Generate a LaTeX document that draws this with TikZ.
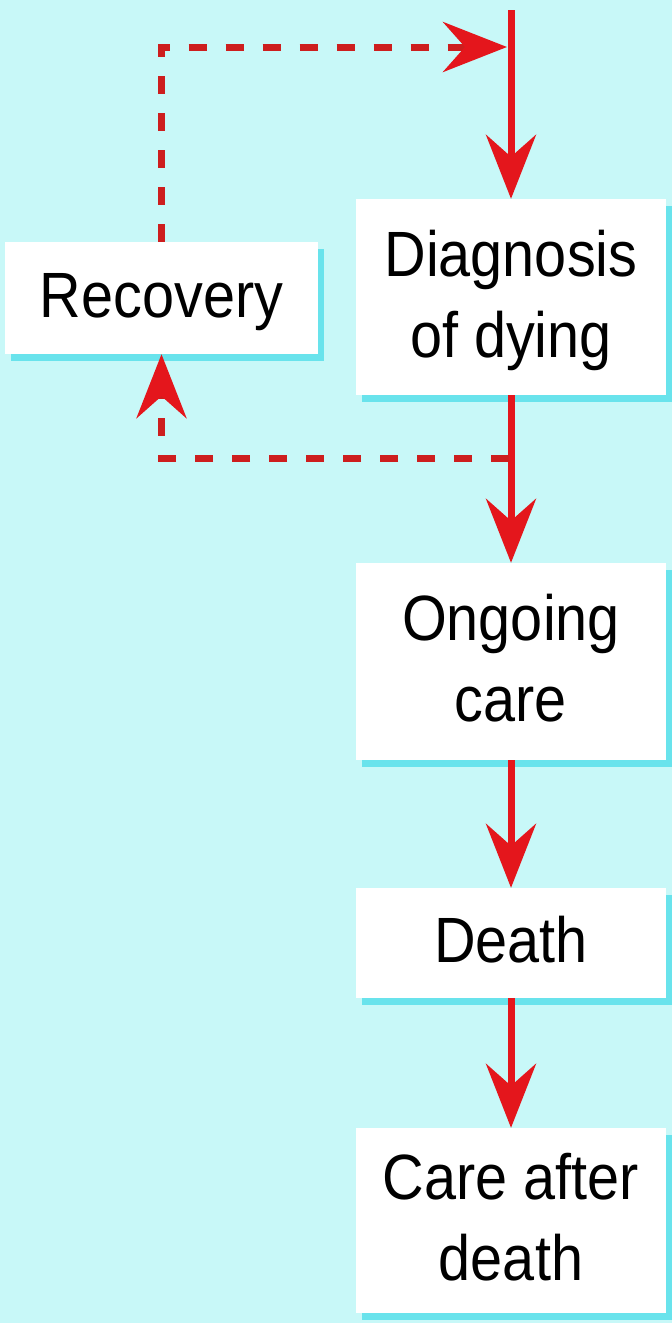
\documentclass[tikz,border=0pt]{standalone}
\usepackage{fontspec}
\setmainfont{Liberation Sans}[FakeStretch=0.9]
\usetikzlibrary{arrows.meta,shadows}
\definecolor{bgcyan}{RGB}{200,248,248}
\definecolor{shadecyan}{RGB}{95,225,235}
\definecolor{flowred}{RGB}{228,22,28}
\definecolor{loopred}{RGB}{205,30,30}
\tikzset{
  card/.style={fill=white, inner sep=0pt, align=center,
    font=\fontsize{64}{81}\selectfont,
    drop shadow={shadow xshift=6pt, shadow yshift=-7pt, fill=shadecyan, opacity=0.9}},
  oneline/.style={text height=47pt, text depth=8pt},
  twoline/.style={text height=128pt, text depth=8pt},
  head/.style={-{Stealth[length=64pt,width=50pt,inset=22pt]}},
  flow/.style={head, draw=flowred, line width=7pt},
  loop/.style={-{Stealth[length=64pt,width=50pt,inset=22pt,color=flowred]},
    draw=loopred, line width=7pt, dash pattern=on 18pt off 19pt}
}
\begin{document}
\begin{tikzpicture}[x=1pt, y=-1pt]
  \useasboundingbox (0,0) rectangle (672,1323);
  \fill[bgcyan] (0,0) rectangle (672,1323);

  % boxes
  \node[card, oneline, minimum width=313pt, minimum height=112pt] (rec) at (161.5,298) {Recovery};
  \node[card, twoline, minimum width=310pt, minimum height=196pt] (diag) at (511,297) {Diagnosis\\of dying};
  \node[card, twoline, minimum width=310pt, minimum height=197pt] (ongo) at (511,661.5) {Ongoing\\care};
  \node[card, oneline, minimum width=310pt, minimum height=110pt] (death) at (511,943) {Death};
  \node[card, twoline, minimum width=310pt, minimum height=185pt] (after) at (511,1220.5) {Care after\\death};

  % junction points on the main line
  \coordinate (start) at (511,10);
  \coordinate (join) at (507,47);
  \coordinate (split) at (509,458);

  % main sequence
  \draw[flow] (start) -- (diag.north);
  \draw[flow] (diag.south) -- (ongo.north);
  \draw[flow] (ongo.south) -- (death.north);
  \draw[flow] (death.south) -- (after.north);

  % recovery loop
  \draw[loop] (split) -| (rec.south);
  \draw[loop] (rec.north) |- (join);
\end{tikzpicture}
\end{document}
